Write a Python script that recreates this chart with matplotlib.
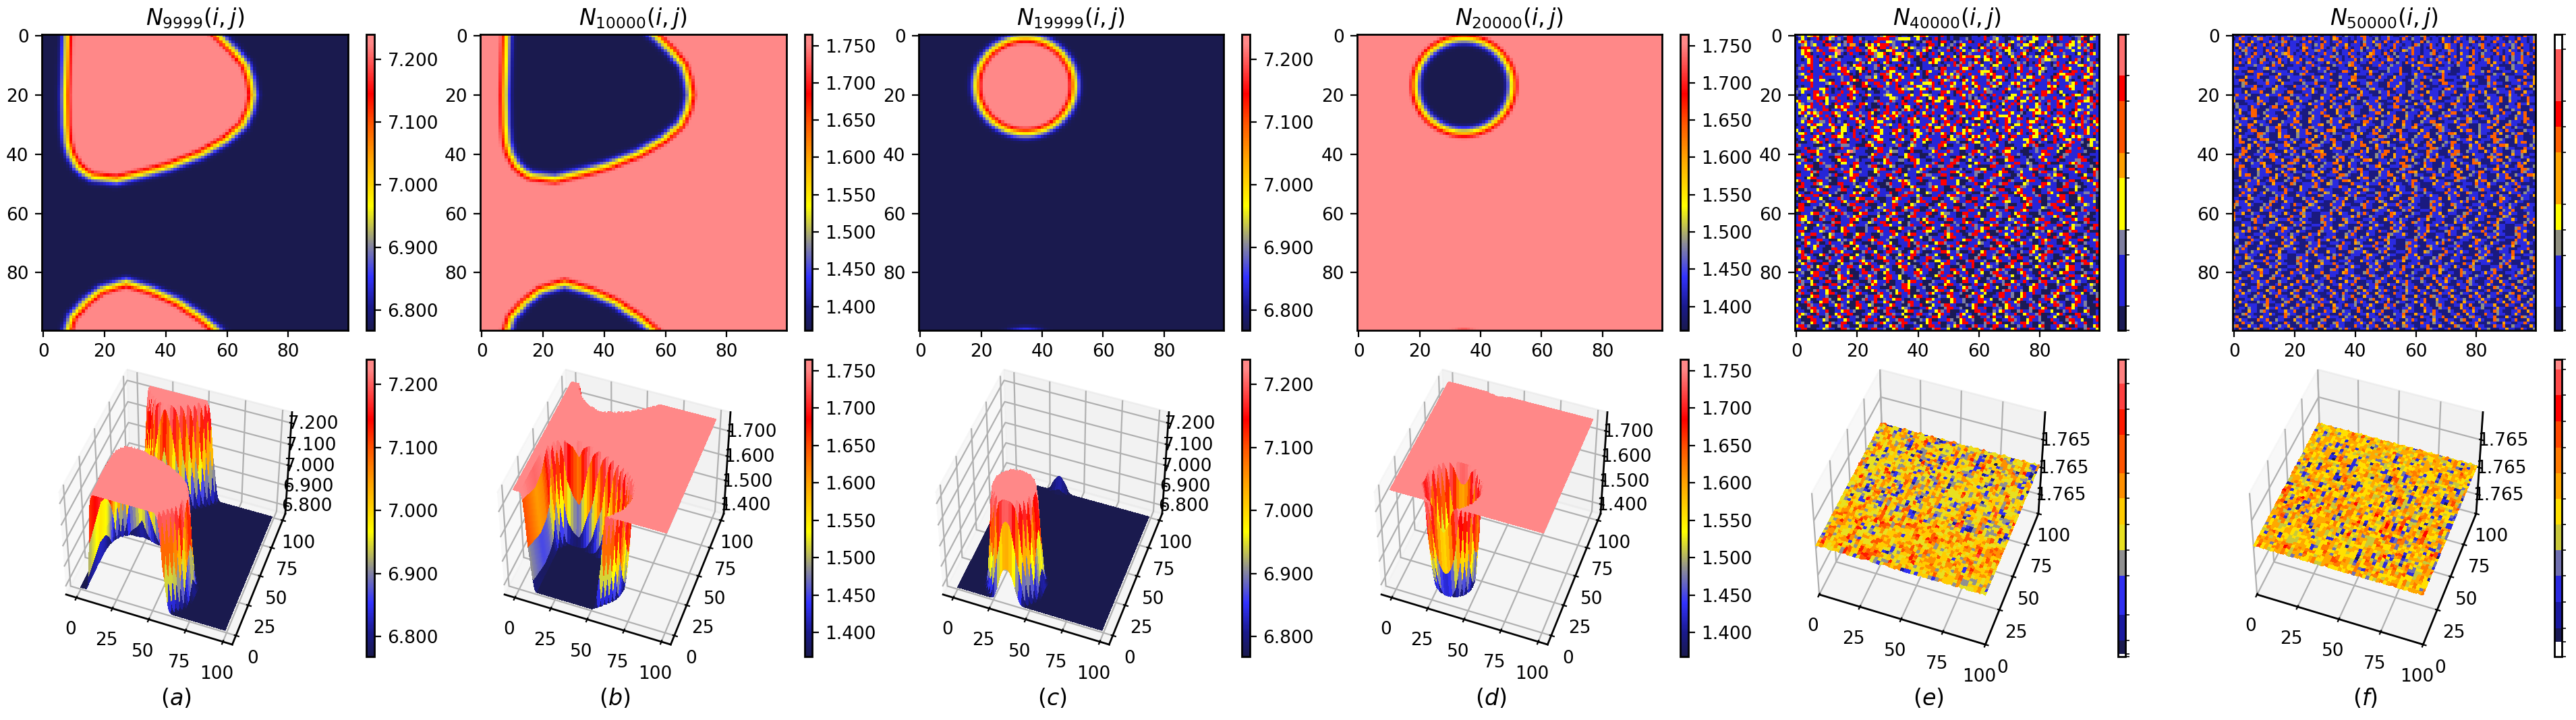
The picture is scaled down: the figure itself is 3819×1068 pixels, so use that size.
import numpy as np
import matplotlib
matplotlib.use("Agg")
import matplotlib.pyplot as plt
from matplotlib.cm import ScalarMappable
from matplotlib.colors import LinearSegmentedColormap, ListedColormap, BoundaryNorm, Normalize
from matplotlib.path import Path

W, H = 3819, 1068
DPI = 200

# colour scale (position, colour)
CMAP_POS = [0.0, 0.08, 0.18, 0.29, 0.42, 0.58, 0.70, 0.80, 0.97, 1.0]
CMAP_COL = ["#1a1a4e", "#1a1a8c", "#3333ff", "#8a8a9a", "#ffff00", "#ffa500", "#ff5500", "#ff0000", "#ff8888", "#ff8888"]

TITLES = ["$N_{9999}(i,j)$", "$N_{10000}(i,j)$", "$N_{19999}(i,j)$", "$N_{20000}(i,j)$", "$N_{40000}(i,j)$", "$N_{50000}(i,j)$"]
LABELS = ["$(a)$", "$(b)$", "$(c)$", "$(d)$", "$(e)$", "$(f)$"]
LABEL_X = [261, 911, 1560, 2210, 2859, 3506]

RANGE_AC = (6.768, 7.24)
RANGE_BD = (1.368, 1.765)
TICKS_AC = [6.8, 6.9, 7.0, 7.1, 7.2]
TICKS_BD = [1.40, 1.45, 1.50, 1.55, 1.60, 1.65, 1.70, 1.75]
ZTICKS_AC = [6.8, 6.9, 7.0, 7.1, 7.2]
ZTICKS_BD = [1.4, 1.5, 1.6, 1.7]

# yellow line of the front in panels a and b, read as (column, row); row < 0 wraps to the bottom of the picture
FRONT_COL = [27, 35, 43.7, 51, 55.8, 57, 62, 66, 67.5, 68.3, 67.3, 65, 59.6, 51, 41, 34, 24, 16, 13.5, 11.3, 9.1, 8, 7.5, 7.3, 7.6, 7.9, 8.3, 9.6, 14, 19]
FRONT_ROW = [-16.5, -14, -10, -5, -1, 0, 5, 10, 15, 20, 25, 30, 35, 40, 44, 46, 48.5, 47.5, 46, 44, 40, 36, 30, 20, 10, 0, -1, -5, -10, -14]

# circle of panels c and d
CIRCLE_COL, CIRCLE_ROW, CIRCLE_R = 34.5, 16.8, 16.0

# colour position against distance from the front (cells, inside is positive), read across the ring
EDGE_D = [-4, -3, -2, -1, 0, 1, 2, 3]
EDGE_F = [0.0, 0.02, 0.13, 0.32, 0.48, 0.78, 0.95, 1.0]

# discrete colorbars of e and f, bottom to top: colours and edges as a fraction of the bar
E_TOP_COL = ["#1a1a55", "#2626d8", "#7f7fa0", "#ffff00", "#ffa000", "#ff5500", "#ff0000", "#ff7070"]
E_TOP_EDGE = [0, 0.083, 0.255, 0.34, 0.515, 0.60, 0.775, 0.86, 1]
F_TOP_COL = ["#1a1a80", "#2a2ae0", "#909080", "#ffff00", "#ffa500", "#ff6000", "#ff0000", "#ff5a5a", "#ffffff"]
F_TOP_EDGE = [0, 0.079, 0.253, 0.340, 0.427, 0.601, 0.688, 0.775, 0.95, 1]
E_BOT_COL = ["#ffffff", "#1a1a50", "#1a1aa0", "#3030f0", "#909090", "#e8e020", "#ffcc00", "#ff9000", "#ff5500", "#ff1a00", "#ff4040", "#ff8080"]
E_BOT_EDGE = [0, 0.010, 0.054, 0.140, 0.271, 0.358, 0.445, 0.532, 0.616, 0.746, 0.833, 0.919, 1]
F_BOT_COL = ["#ffffff", "#1a1a55", "#1a1aa0", "#2a2ae0", "#7070b0", "#c8c83c", "#ffe000", "#ffa800", "#ff7a00", "#ff4800", "#ff0000", "#ff4a4a", "#ff8888"]
F_BOT_EDGE = [0, 0.051, 0.095, 0.183, 0.271, 0.358, 0.445, 0.530, 0.616, 0.703, 0.792, 0.879, 0.966, 1]
# mean cell level where each colour of the surfaces begins
SURF_E_EDGE = [-1, -0.5, 0.25, 0.6, 1.0, 1.3, 1.9, 2.5, 3.1, 3.7, 4.5, 5.5, 8]
SURF_F_EDGE = [-1, -0.5, 0.1, 0.3, 0.55, 0.75, 0.95, 1.35, 1.85, 2.3, 2.8, 3.4, 4.5, 8]

# cell levels of e and f: 0 navy, 1 blue, 2 grey, 3 yellow, 4 orange, 5 orange-red, 6 red, 7 pink
# estimated by eye and only roughly: the texture and colour mix follow the picture, single cells do not
GRID_E = """
1231346401143611266011111121236661011003366311106101000000110160121100110661213611136016110122360631
0131011601632121066112011116666112333311310101601101001120111161123110011312113311122016111012600321
1364121116010110266116120166113321101001102661106610212116011101362110231161033011263001116313160111
1123123110661131214410036313666121163011011066103012106311116012112631601213361011301622163312613601
1066611611174311066161103360661623110632112631011120613110110361161266301131106323160111123113121601
1136321461166772161166126331003361106001213601121160161311326116012103310112601130610116111311162011
1136601116111371016110016623360163371611361016103111016012111162116210321163011001663111211103101631
1113661011032300111011160123316102631661060011160161306366633136013611031606121316310361360111612111
1101361161661121111132116361116133601210016106331606116611061033616011162011611162332211110162013110
1111361102111661100116203110136011110311001136310111602612136011206311106212010162110161103631011261

0121661131116161210366111126012110611101001110011021626112611311033111611261011630110261611113361213
1261161112611136612133601121031661006111301111206611116336011121612160110361121163211011663111013601
1111601116011116631103016100116331110116110631116211261611116333601116110161161132011116110661613611
1231161111662131660106110121662316311163310611106313126116111326361112016311610131111063366611161321
0113661161111112116001122131066311631160110011631162631011361116063361016121336116110661632110133611
1161631133100112116360116611161063611111161261116321110631611112031160111163011661120311131011661013
1111161111236116631000631166113616111631113336106116311311361116216311136311126011161161112361106621
0101161111011610112600660116612116012116331126111613211661036111632011210613166111136301163311161121
1233611133610101163611003001121116632331133616331116601631216132110116311211003111106611116311163211
2131116613110116116361101100112111661101161101116631066116311162211160111163221116636103111110161021

1011016312611161166110163111123311111631163321106111016312110610161111033161161016611110301633611016
0111316666312611106311001100111332106611611036133601111612021161011602331611316312111611166101123601
3611221610311161111011011126111621160116331006331163211101663111061126116033161021161163310116633616
1321161161310611632116631001612110166111601616111603116631166112111031161621111361021160361163111260
1336361116100363661106101000106116103310161301611666110036316331016101611031611321161166311161113161
1136112116601116311161100162116111026361011612111360111161611101161136111061033631161011111063211211
1361363261116321166112116300166136211110613116111166126116116366316111631120116336310166110631163111
1013116311610631103116216101631663161016116601103611012311116310116333611301116011161121611031611061
1122031161161011116631016361163161011663011163116310116010633610621116311661011360111363316110612616
1131661122161021011163611163311101011362311113601661166031100163160116311211633611610166311611621036

0111316331136111361102311161162311610161111631102631610111363110116116103361161101016331111363611613
1161033011113603310163011633111011661111016160336116311060111116301126631111631123161013116601613161
3101131611663113310611101166311166310163311261661116311363211061103116310161163311610163311101163116
1336101163110163011610121116311036110116331102113610166316111631116011611361016361103116311611163161
1161116310116633111611610633111116161106311611116603121610363116111631066111163310611616110363211101
0131163611611016631161011163311001631163116361111063311163610163110611631113361116311601633116106331
1000112361011126601111003216611131110026113001116611120001633111260110211111366021100611117611200312
6211110001136112221100066311101112600132110011166300111261100211663110001113612600111120366111002311
1116011233110006111261110036611200111361111022160011113361100061121116630110001211166113002116100063
0011666311120011137211100016611322110060001113611162110011663111200163311100011216611130066111120001

1261100361111220660011110361112600113611100021166311110002611361110026611210001113661100221116000111
3300161121100661113110002611162111003661100112161110066311201110361112660011021136111006211116611001
1126001311110036611120111600036111221066311001116112660013111102610003661111200116311160011122660011
6311110062111003311661100112136610001116311112600116621100036111126001116611320011160001116362111006
1113660011221601110631112660011320110006111361122166001113110000661112361100121166011113100026611200
1116310001166112113600111132660011600211136110006611112011166330011160011221136611000312116601110036
0011162611100011663112110036111126600111321100061116631100122161110366001131110026611200111136110062
6611130011121600113661110002116611013111006221116610003611120011166311100261116011121366001110031162
1110366111200011316610002611110362110011661113200016111136610011221160001136111100662111301111660012
3611100661120011116310016621100011363211160011116611130002611116311100621110366110011201116600113611

0061116231100066111201136110002611166311000121116611130011160036111266110003211116631100261120011136
1661100012361116001132116611000211160036111126311006611200111361160001116622110036111100661132001116
6002111360011126611000311162110006611121300116611000261113611100221660011361116001121166110030011162
3110061116611200011363110026111600112661100321116011136611000211162111003661112001163110006611122110
0361116601130002116611000361112200166111310001161136611200111600321166110036111260011136610002111621
1006611130011162110036611120001163611100261116600113221100661113000116211103661110021116610003611120
0011366112000116311160026611001132111600366110002111361166001120011163311100621160011166310002611130
1660011120361110026611160001131166110032111600136611000211161103661112000116361110026611160011132110
0661112001163611100266111003211160013661100021116311660011120361110002661116001113211660011300211160
3661110002116361100661120011136110062116600113611100261116611000312116001163611120001166311100261116

0011136611200116211003661112001636110026111660013221100661113001116211103611100021166111000361112001
1663110026111601121366110003116211000366111200116311100261166001113211600366110002111361166001120011
1633110062116001116631000261113066110011203611100266111600011311661100321116001366110002111631166001
1120361110002661116001113211660011300211160366111000211636110066112001113611006211660011361110026111
6611000312116001163611120001166311100261116001113661120011621100366111200163611002611166001322110066
1113001116211103611100021166111000361112001663110026111601121366110003116211000366111200116311100261
1660011132116003661100021113611660011200116331100621160011166310002611130661100112036111002661116000
1131166110032111600136611000211163110366111200011636111002661116000113116611003211160013661100021116
3116600112036111000266111600111321166001130021116036611100021163611006611200111361100621166001136111
0026111661100031211600116361112000116631110026111600111366112001162110036611120016361100261116600132

1106311200161112003611000216611300111602611100366211160001113211006611200136110016211100663110021116
0016113611002111660031120001136610011600216311100026113611160011200366110021116300166111002361100116
6210013110006611200361116001120663110001612113660010031116211000661130021110016361120016610021130011
1360061110021663111000261130016611200136210001116631120001600361112660011021163100266111000136112006
1162110036100211660031100616112000361166100211300061163110002661120013611600021136611001211600361120
0166311000261116003611200016631102110360011662110003116110026001136111200661100316211000136611200161
1300266110021136001116311200066110361002111600331161100026611120003611166001120036110016211300661100
2136110006611003112001636110002116611300016211003661120011600316112000261136610011020361160011266310
0011620361100021166113000611321100366112001611036110002611600113211006631120001361160021136611000211
6311200166100361120011600266113100026110361160002116611300012611003621100661120003116110036611200016

1120036611001621130001661120036110021116631100026110361160011300266112000136110061121003661100021163
3110016611200036116002113610006611300112611000361166002110361100026611130016211003611200016611360011
1200361160021136610001162110036611300011263110006611200361116002110366100011321160003611260011113660
0621130011660021136110002631116001120366110002111631100661130001261120036116100026611130011362110006
1120036110016611300261100361120001166311160021100366112000161136100026611200113611600021166311001320
0361100026611130011620036111000621166300112003611600011362110066113000216110036611200016311660011200
3611002611360001126611000361112003116600211000366113001620011361100026611120036110001166321100061130
0261160011366100021136110002611203611600011263110066112000361130001661120036116110002631100611300212
1100036611200061136100021166311600011203661100021136110062116300011661120036110002611360011266110002
6311300116620036111000261160021136610011200663110003611200016611300211600361120011663100021136110006

1016210036612001130061100261136001120661100321160003611200116631100026113600112061103621100166120011
3000621160011362100066113200011361100261160003112661100021360011162003611200061130011662100361120006
1100266113000161120036110062116600132100011631100266112000361160011203661100026113600021166310012000
6110036211600113661200011360026110003661120011362160001130066110021361100261120066113000216110036001
1632100611200361166000113211006621130001661120036110016311002661130002116003611260001136100066112001
1300661100261136001120066110321160003611200116631100026113600112061103621100166120011300062116001136
2100066113200011361100261160003112661100021360011162003611200061130011662100361120006110026611300016
1120036110062116600132100011631100266112000361160011203661100026113600021166310012000611003621160011
3661200011360026110003661120011362160001130066110021361100261120066113000216110036001163210061120036
1166000113211006621130001661120036110016311002661130002116003611260001136100066112001130066110026113
"""

GRID_F = """
1015110411011510112510011415101105110211015510110112100115101125011011040115101105511011015110105112
0151101125110110511021150110151104501101011511020115111051021105101104110151102110501115100110511012
1105104110115011250111011501105101151100510211411051015011101150211105110510112501011051110215011015
1411051011501120510110151102151100511401110511025101151101105201151010451105110112510110151121051101
1051210511011501105111045101151012110510115021105111051011251101051110451102151010511105111021501105
1102511011051141105110150112510115101105112011511010511042151101105101125101110511021051101411051101
5110210511015011245101105110115110201151101104511051020110151101125011051104110510211105101151120510
1050115110211051014511011051101152110105111045101105102115011051110125101501124110511011051021151105
1101151102501105110411501101251110510111502110510114510110151011021511051104110510125011051021151110
1151041105110215010115102510110411051125101105111501102105110451011051120151105101115041101510251105

1000111211100511400011101151100002111045110000115110211100041115551000111021100511110411000021115000
5511100011241110001111051100211500011100411050001112111500010411100511120001115511000114110021110001
1110055111000211110401115000112011005510001114110002111500011051110024110001115111205100011104115000
2111000155110004111100251110001150011100411105000211100511014110002115100011105511100021140001111500
1000411150001151002111100051141100021115500011105110041110002115110005111102411100015111002110005114
1155000111021114000111510002111150001104511100021100511100141100021155000111011410005110002111510004
1102500011151100411100021115000111051140001125110005111410021150001105511100041110002151100011105114
0002111500111041100051112001151100041115500021110005114110002115100011105111240001115110005100211140
1110005511100421110001151140002111500011051102411100051110021150001110541100021511100041110015510002
1110401115000211105500011141002111000511104110002115001110551000411102111500011105140002111510004110

0511120001141115000211105100011150041100025111000115110400211150011105110004115500021110001411051100
2111500041110001155002111100041105111002150001114110055100021110041150001121105110004111500211100511
4000111025110001115500411002111051000141100211150001105114100021155000111041105100021111500411000511
1200011151400021100511100411150002110551000141112100051110004115002111005511000411102115000110511400
0211105110001550041112110005110041150002111005114001155002110001411151000211105110004511002111500011
1041105500021111400051100021115000411105110002511400011150021100551100041112050011110411500021100051
1140015500211100051114000211151000411052110001155004110002111051140002115500111041000211051100415000
2111005510041110002115100041105500021114000511100211150004110511200011541100021105510004111002115000
1105411000211550001141100521100041115000211105140001155002110004111051100021154000111052110004115500
0211100411105000211155000411100251140001110551000211140051100021155000111410052110004115000211105110

0041155002110004110511200011540021110551000411100211500041105110002541100015510002111041005511000211
1400051100021155000141100521110004115500021110041105100021154001110552100041110002115500041102110005
1140015500021105110004115002110554000111021100514000215500111041100052110004155002111004105110002115
4000111055210004110002115500041102110005114001550002110511000411500211055400011102110051400021550011
1041100052110004155002111004105110002115400011105521000411002115500041102110005114001550002105110004
1150021105540001110211005140002155001110411000521100041550021110041051100021154000111055210004110002
1155000411021100051140015500021105110004115002110554000111021100514000215500111041100052110004155002
1110041051100021154000111055210004110002115500041102110005114001550002105110004115002110554000111021
1005140002155001110411000521100041550021110041051100021154000111055210004110002115500041102110005114
0015500021051100041150021105540001110211005140002155001110411000521100041550021110041051100021154000

1125000111405511000211040011155000211100451100021550041110002110511400015521000411100215500041120011
0051150002115540011102110004150002155011104110021500041155021100410511002100540011105521004110021100
5500411021000511400155002100511000415002110554001110211005140002155001110411000521000415500211100411
5110002115400011105521000411002115500041102110005114001550002105110004115002110554000111021100514000
2155001110411000521100041550021110041051100021154000111055210004110002115500041102110005114001550002
1051100041150021105540001110211005140002155001110411000521100041550021110041051100021154000111055210
0041100021155000411021100051140015500021105110004115002110554000111021100514000215500111041100052110
0041550021110041051100021154000111055210004110002115500041102110005114001550002105110004115002110554
0001110211005140002155001110411000521100041550021110041051100021154000111055210004110002115500041102
1100051140015500021051100041150021105540001110211005140002155001110411000521100041550021110041051100

0000211151100411100520011115100421100005111041115000211100151100004111521000111051104110002115100001
1140511000211110510000411125100011151100042110000511104110052100001115110041100021115000411100511200
0011141500021110051100411000251110001141100521100005114110002115000111051104110002511000141115000211
0005111001400211150001110511004210000511141100025110000411151002110000511410052110001115000411102110
0051140011100021510004110000521114100021500011105110042100005110141100021150001110511400211000511104
1100052110001150411100021150001110511400211100051100411000521100011150041100021510011100541100021100
0511400111002510041100005114110002115000111051104210000511041100025110001114150002110001511004110000
5211141000215000111051100421000051114110002511000041115100211000051141005211000111500041110211000511
4001110002151000411000052111410002150001110511004210000511141100025110000411151002110000511410052110
0011150004111021100051140011100021510004110000521114100021500011105110042100005110141100021150001110

5114002110005111041000521100011150041100021510011100541100021100051140011100251004110000511411000211
5000111051104210000511041100025110001114150002110001511004110000521114100021500011105110042100005111
4110002511000041115100211000051141005211000111500041110211000511400111000215100041100005211141000215
0001110511004210000511141100025110000411151002110000511410052110001115000411102110005114001110002151
0004110000521114100021500011105110042100005110141100021150001110511400211000511104100052110001115004
1100021510011100541100021100051140011100251004110000511411000211500011105110421000051104110002511000
1114150002110001511004110000521114100021500011105110042100005111411000251100004111510021100005114100
5211000111500041110211000511400111000215100041100005211141000215000111051100421000051114110002511000
0411151002110000511410052110001115000411102110005114001110002151000411000052111410002150001110511004
2100005110141100021150001110511400211000511104100052110001115004110002151001110054110002110005114001
"""
GRID_F += """
1100251004110000511411000211500011105110421000051104110002511000111415000211000151100411000052111410
0021500011105110042100005111411000251100004111510021100005114100521100011150004111021100051140011100
0215100041100005211141000215000111051100421000051114110002511000041115100211000051141005211000111500
0411102110005114001110002151000411000052111410002150001110511004210000511014110002115000111051140021
1000511104100052110001115004110002151001110054110002110005114001110025100411000051141100021150001110
5110421000051104110002511000111415000211000151100411000052111410002150001110511004210000511141100025
1100004111510021100005114100521100011150004111021100051140011100021510004110000521114100021500011105
1100421000051114110002511000041115100211000051141005211000111500041110211000511400111000215100041100
0052111410002150001110511004210000511014110002115000111051140021100051110410005211000111500411000215
1001110054110002110005114001110025100411000051141100021150001110511042100005110411000251100011141500
"""
GRID_F += """
5110002115110041000511210001150011104511000251100001411510021000511140011005211000141150001110251004
1100051114000211500110041150002511000114110005210015110004110002115001140005110021100511400015110021
0041105110002500114100052110011500041100251100011410051100021150004110511200014110005115000211004110
2510001141150002110005114002110051000411500011025110004115100021000511410011052100011500411000251100
0114100052110015000411100051120001141105100021150004110025110001150041100051102110014100051150002110
4110001151002500041100511100211400051110025001141100051102115000411002511001150004100052110014110005
1150021100041105110025000114110051000211500411002151000114100511002500114100052110015000411100511200
0114110051002115000411002511000114105100021150041100051102110014100051150002110041100115100250004110
0511100211400051110025001141100051102115000411002511001150004100052110014110005115002110004110511002
5000114110051000211500411002151000114100511002500114100052110015000411100511200011411005100211500041
"""
GRID_F += """
1041100021151100025001041100511140011000215100041105002110014115000211005100411102150001140051100211
5000411100250011410005110021150004110511200114100051150002110041100251000114105000211140005110041150
0011021100041151000211005141001105210001150041100025110011410005110021150004110511200014110005115000
2110041102510001141150002110005114002110051000411500011025110004115100021000511410011052100011500411
0002511000114100052110015000411100051120001141105100021150004110025110001150041100051102110014100051
1500021104110001151002500041100511100211400051110025001141100051102115000411002511001150004100052110
0141100051150021100041105110025000114110051000211500411002151000114100511002500114100052110015000411
1005112000114110051002115000411002511000114105100021150041100051102110014100051150002110041100115100
2500041105111002114000511100250011411000511021150004110025110011500041000521100141100051150021100041
1051100250001141100510002115004110021510001141005110025001141000521100150004111005112000114110051002
"""


def read_grid(text):
    rows = [r.ljust(100, "1")[:100] for r in text.split()][:100]
    return np.array([[int(c) for c in r] for r in rows], dtype=float)


def front_distance():
    cc, rr = np.meshgrid(np.arange(100.0), np.arange(100.0))
    fc = np.array(FRONT_COL + FRONT_COL[:1])
    fr = np.array(FRONT_ROW + FRONT_ROW[:1])
    path = Path(np.column_stack([fc, fr]))
    best = -np.full(cc.shape, 1e9)
    for shift in (0, -100):
        y = rr + shift
        dist = np.full(cc.shape, 1e9)
        for i in range(len(fc) - 1):
            dx, dy = fc[i + 1] - fc[i], fr[i + 1] - fr[i]
            t = np.clip(((cc - fc[i]) * dx + (y - fr[i]) * dy) / (dx * dx + dy * dy), 0, 1)
            dist = np.minimum(dist, np.hypot(cc - fc[i] - t * dx, y - fr[i] - t * dy))
        inside = path.contains_points(np.column_stack([cc.ravel(), y.ravel()])).reshape(cc.shape)
        best = np.maximum(best, np.where(inside, dist, -dist))
    return best


def circle_distance():
    cc, rr = np.meshgrid(np.arange(100.0), np.arange(100.0))
    best = -np.full(cc.shape, 1e9)
    for shift in (0, -100):
        best = np.maximum(best, CIRCLE_R - np.hypot(cc - CIRCLE_COL, rr + shift - CIRCLE_ROW))
    return best


def field(d, lim, invert=False):
    f = np.interp(-d if invert else d, EDGE_D, EDGE_F)
    return lim[0] + f * (lim[1] - lim[0])


def px_axes(fig, left, right, top, bottom, **kw):
    return fig.add_axes([left / W, 1 - bottom / H, (right - left) / W, (bottom - top) / H], **kw)


def axes_3d(fig, left):
    # the reference is squeezed sideways, so the 3d box is not kept square
    ax3 = px_axes(fig, left - 6, left + 400, 533, 974, projection="3d")
    ax3.apply_aspect = lambda position=None: None
    ax3.view_init(elev=ELEV, azim=AZIM)
    ax3.tick_params(pad=PAD3)
    return ax3


def heat_ticks(ax, title):
    ax.set_xlim(-0.5, 99.5)
    ax.set_ylim(99.5, -0.5)
    ax.set_xticks([0, 20, 40, 60, 80])
    ax.set_yticks([0, 20, 40, 60, 80])
    ax.set_title(title, fontsize=FS_T, pad=5)


def draw_smooth(fig, i, data, lim, cticks, zticks, cmap):
    left, right, cleft, cright = AX_X[i]
    norm = Normalize(*lim)
    ax = px_axes(fig, left, right, 51, 490)
    im = ax.imshow(data, cmap=cmap, norm=norm, aspect="auto")
    heat_ticks(ax, TITLES[i])
    cax = px_axes(fig, cleft, cright, 51, 490)
    fig.colorbar(im, cax=cax, ticks=cticks, format="%.3f")

    ax3 = axes_3d(fig, left)
    X, Y = np.meshgrid(np.arange(100), np.arange(100))
    surf = ax3.plot_surface(X, Y, data, cmap=cmap, norm=norm, linewidth=0, antialiased=False)
    ax3.set_xticks([0, 25, 50, 75, 100])
    ax3.set_yticks([0, 25, 50, 75, 100])
    ax3.set_zticks(zticks)
    ax3.set_zticklabels(["%.3f" % z for z in zticks])
    cax = px_axes(fig, cleft, cright, 533, 974)
    fig.colorbar(surf, cax=cax, ticks=cticks, format="%.3f")


def draw_noise(fig, i, grid, top_col, top_edge, bot_col, bot_edge, surf_edge):
    left, right, cleft, cright = AX_X[i]
    ax = px_axes(fig, left, right, 51, 490)
    ax.imshow(grid, cmap=ListedColormap(top_col[:8]), vmin=-0.5, vmax=7.5, aspect="auto")
    heat_ticks(ax, TITLES[i])
    cax = px_axes(fig, cleft, cright, 51, 490)
    cm = ListedColormap(top_col)
    fig.colorbar(ScalarMappable(BoundaryNorm(top_edge, len(top_col)), cm), cax=cax, spacing="proportional", ticks=[])

    ax3 = axes_3d(fig, left)
    X, Y = np.meshgrid(np.arange(grid.shape[1]), np.arange(grid.shape[0]))
    cm = ListedColormap(bot_col)
    ax3.plot_surface(X, Y, grid, cmap=cm, norm=BoundaryNorm(surf_edge, len(bot_col)), linewidth=0, antialiased=False)
    ax3.set_xlim(0, 99)
    ax3.set_ylim(0, 99)
    ax3.set_zlim(2 - 200, 2 + 200)
    zt = [2 + 400 * (f - 0.5) for f in (0.2, 0.47, 0.74)]
    ax3.set_xticks([0, 25, 50, 75, 100])
    ax3.set_yticks([0, 25, 50, 75, 100])
    ax3.set_zticks(zt)
    ax3.set_zticklabels(["1.765"] * 3)
    cax = px_axes(fig, cleft, cright, 533, 974)
    fig.colorbar(ScalarMappable(BoundaryNorm(bot_edge, len(bot_col)), cm), cax=cax, spacing="proportional", ticks=[])


FS = 9.5
FS_T = 12
PAD3 = 0
ELEV, AZIM = 45, -70
AX_X = [(62, 516, 543, 555), (712, 1166, 1193, 1204), (1362, 1814, 1841, 1853),
        (2012, 2464, 2491, 2503), (2661, 3112, 3140, 3151), (3310, 3759, 3787, 3798)]

plt.rcParams["font.size"] = FS
plt.rcParams["axes.linewidth"] = 1.0

cmap = LinearSegmentedColormap.from_list("front", list(zip(CMAP_POS, CMAP_COL)), N=256)
fig = plt.figure(figsize=(W / DPI, H / DPI), dpi=DPI)

d_front = front_distance()
d_circle = circle_distance()
draw_smooth(fig, 0, field(d_front, RANGE_AC), RANGE_AC, TICKS_AC, ZTICKS_AC, cmap)
draw_smooth(fig, 1, field(d_front, RANGE_BD, invert=True), RANGE_BD, TICKS_BD, ZTICKS_BD, cmap)
draw_smooth(fig, 2, field(d_circle, RANGE_AC), RANGE_AC, TICKS_AC, ZTICKS_AC, cmap)
draw_smooth(fig, 3, field(d_circle, RANGE_BD, invert=True), RANGE_BD, TICKS_BD, ZTICKS_BD, cmap)
draw_noise(fig, 4, read_grid(GRID_E), E_TOP_COL, E_TOP_EDGE, E_BOT_COL, E_BOT_EDGE, SURF_E_EDGE)
draw_noise(fig, 5, read_grid(GRID_F), F_TOP_COL, F_TOP_EDGE, F_BOT_COL, F_BOT_EDGE, SURF_F_EDGE)

for x, lab in zip(LABEL_X, LABELS):
    fig.text(x / W, 1 - 1036 / H, lab, ha="center", va="center", fontsize=FS_T)

fig.savefig("out.png", dpi=DPI)
